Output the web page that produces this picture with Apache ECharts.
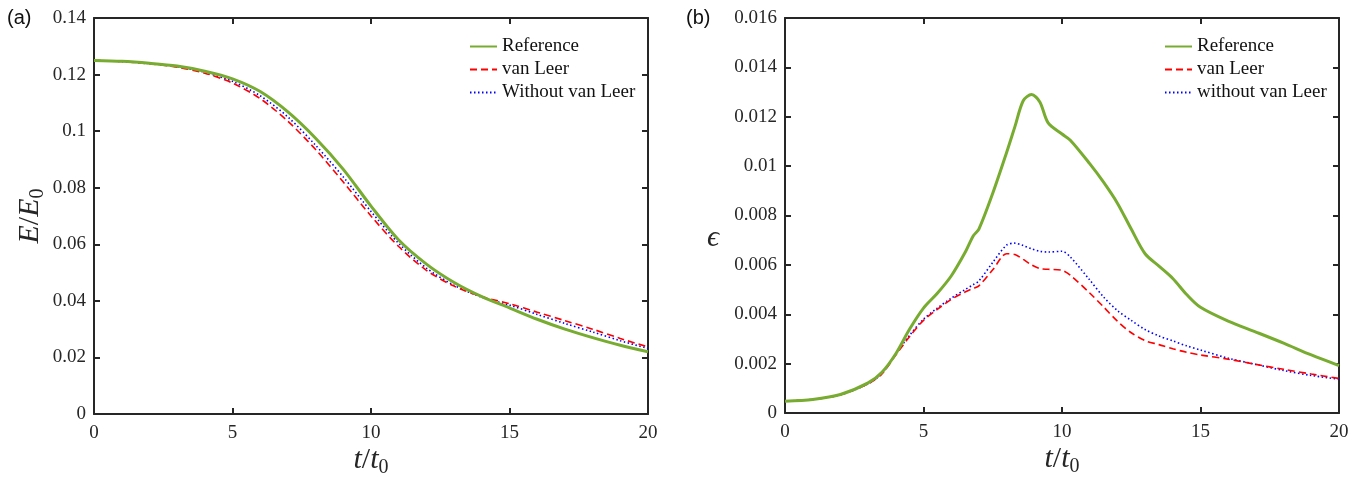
<!DOCTYPE html>
<html><head><meta charset="utf-8">
<script src="https://cdn.jsdelivr.net/npm/echarts@6/dist/echarts.min.js"></script>
<style>html,body{margin:0;padding:0;background:#fff}#c{width:1362px;height:477px}</style>
</head><body><div id="c"></div>
<script>
// ---- Panel (a): E/E0 ----
var tA = [0,1,2,3,4,5,6,7,8,9,10,11,12,13,14,15,16,17,18,19,20];
var eRef = [0.1250,0.1247,0.1240,0.1230,0.1212,0.1185,0.1140,0.1068,0.0975,0.0865,0.0735,0.0615,0.0530,0.0465,0.0415,0.0375,0.0335,0.0300,0.0270,0.0243,0.0220];
var eVL  = [0.1250,0.1246,0.1238,0.1226,0.1205,0.1170,0.1115,0.1035,0.0935,0.0820,0.0700,0.0592,0.0508,0.0452,0.0415,0.0390,0.0360,0.0330,0.0300,0.0267,0.0237];
var eNoVL= [0.1250,0.1246,0.1239,0.1228,0.1208,0.1176,0.1125,0.1050,0.0950,0.0838,0.0716,0.0603,0.0516,0.0455,0.0413,0.0385,0.0352,0.0320,0.0290,0.0259,0.0232];
// ---- Panel (b): epsilon ----
var tB = [0,1,2,3,3.5,4,4.5,5,5.5,6,6.5,6.8,7,7.5,8,8.3,8.6,8.9,9.2,9.5,10,10.3,11,11.5,12,12.5,13,13.5,14,14.5,15,16,17,18,19,20];
var epsRef = [0.00048,0.00055,0.00075,0.00122,0.00165,0.00240,0.00340,0.00425,0.00485,0.00555,0.00650,0.00718,0.00745,0.00890,0.01055,0.01160,0.01265,0.01290,0.01260,0.01175,0.01130,0.01105,0.01010,0.00935,0.00850,0.00745,0.00645,0.00595,0.00545,0.00480,0.00428,0.00372,0.00328,0.00283,0.00235,0.00192];
var epsVL  = [0.00048,0.00055,0.00074,0.00118,0.00158,0.00235,0.00310,0.00375,0.00420,0.00460,0.00490,0.00505,0.00515,0.00580,0.00645,0.00642,0.00622,0.00600,0.00585,0.00582,0.00578,0.00558,0.00486,0.00430,0.00372,0.00325,0.00293,0.00277,0.00260,0.00246,0.00235,0.00218,0.00197,0.00177,0.00158,0.00140];
var epsNoVL= [0.00048,0.00055,0.00074,0.00118,0.00160,0.00240,0.00315,0.00380,0.00425,0.00465,0.00500,0.00520,0.00535,0.00610,0.00680,0.00688,0.00678,0.00665,0.00655,0.00652,0.00655,0.00632,0.00539,0.00470,0.00415,0.00375,0.00338,0.00312,0.00292,0.00272,0.00255,0.00222,0.00197,0.00172,0.00152,0.00137];
var namesA = ['Reference','van Leer','Without van Leer'];
var namesB = ['Reference','van Leer','without van Leer'];

function pairs(t, v){ return t.map(function(x,i){ return [x, v[i]]; }); }

var serif = 'Liberation Serif';
var axCol = '#262626';
var lbl = {fontFamily: serif, fontSize: 19, color: '#262626'};
var rich = {
  i:{fontFamily:serif, fontStyle:'italic', fontSize:30, color:'#262626', lineHeight:32, verticalAlign:'top'},
  n:{fontFamily:serif, fontSize:30, color:'#262626', lineHeight:32, verticalAlign:'top'},
  s:{fontFamily:serif, fontSize:20, color:'#262626', lineHeight:20, padding:[13,0,0,0], verticalAlign:'top'}
};
function xAx(grid, top){
  return {type:'value', gridIndex:grid, min:0, max:20, interval:5, position: top?'top':'bottom',
    axisLine:{onZero:false, lineStyle:{color:axCol, width:2}},
    axisTick:{inside:true, length:6, lineStyle:{color:axCol, width:2}},
    splitLine:{show:false},
    axisLabel: top ? {show:false} : Object.assign({margin:10}, lbl),
    name: top ? '' : '{i|t}{n|/}{i|t}{s|0}',
    nameLocation:'middle', nameGap: 31, nameMoveOverlap:false,
    nameTextStyle:{rich:rich}
  };
}
function yAx(grid, right, max, interval, dec, name, gap, rot, pad){
  return {type:'value', gridIndex:grid, min:0, max:max, interval:interval, position: right?'right':'left',
    axisLine:{onZero:false, lineStyle:{color:axCol, width:2}},
    axisTick:{inside:true, length:6, lineStyle:{color:axCol, width:2}},
    splitLine:{show:false},
    axisLabel: right ? {show:false} : Object.assign({margin:8, formatter:function(v){ return v===0?'0':String(+v.toFixed(dec)); }}, lbl),
    name: right ? '' : name, nameLocation:'middle', nameGap: gap, nameRotate: rot, nameMoveOverlap:false,
    nameTextStyle:{rich:rich, padding: pad || 0}
  };
}
var styles = [
  {color:'#77AC30', width:3, type:'solid'},
  {color:'#FF0000', width:1.6, type:[7,4]},
  {color:'#0000FF', width:1.6, type:[1.5,2.5]}
];
function ser(name, grid, data, k){
  return {type:'line', name:name, xAxisIndex:grid*2, yAxisIndex:grid*2, data:data, smooth:0.3,
    symbol:'none', showSymbol:false, lineStyle:styles[k], itemStyle:{color:styles[k].color}, z: 3-k, animation:false};
}
var legTxt = {fontFamily:serif, fontSize:19, color:'#111'};
var legBase = {orient:'vertical', top:32, itemWidth:27, itemHeight:14, itemGap:4, itemStyle:{opacity:0}, textStyle:legTxt, selectedMode:false};
var option = {
  backgroundColor:'#fff',
  animation:false,
  grid:[{left:94, top:18, width:554, height:396, outerBoundsMode:'none', containLabel:false},
        {left:785, top:18, width:554, height:395, outerBoundsMode:'none', containLabel:false}],
  xAxis:[xAx(0,false), xAx(0,true), xAx(1,false), xAx(1,true)],
  yAxis:[yAx(0,false,0.14,0.02,2,'{i|E}{n|/}{i|E}{s|0}',47,90), yAx(0,true,0.14,0.02,2,'',0,0),
         yAx(1,false,0.016,0.002,3,'{i|ϵ}',66,0,[48,0,0,0]), yAx(1,true,0.016,0.002,3,'',0,0)],
  legend:[
    Object.assign({data:namesA, left:464}, legBase),
    Object.assign({data:namesB, left:1159}, legBase)
  ],
  series:[
    ser(namesA[0],0,pairs(tA,eRef),0), ser(namesA[1],0,pairs(tA,eVL),1), ser(namesA[2],0,pairs(tA,eNoVL),2),
    ser(namesB[0],1,pairs(tB,epsRef),0), ser(namesB[1],1,pairs(tB,epsVL),1), ser(namesB[2],1,pairs(tB,epsNoVL),2)
  ],
  graphic:[
    {type:'text', left:7, top:8, style:{text:'(a)', font:'20px "Liberation Sans"', fill:'#111'}},
    {type:'text', left:686, top:8, style:{text:'(b)', font:'20px "Liberation Sans"', fill:'#111'}}
  ]
};
var chart = echarts.init(document.getElementById('c'), null, {renderer:'canvas'});
chart.setOption(option);
</script></body></html>
